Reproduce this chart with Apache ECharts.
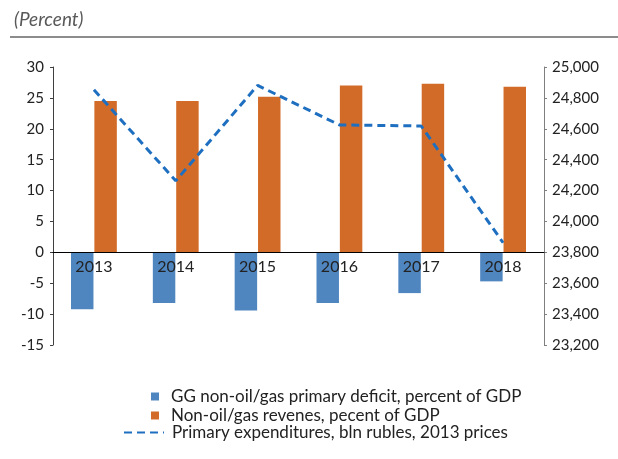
<!DOCTYPE html>
<html>
<head>
<meta charset="utf-8">
<script src="https://cdn.jsdelivr.net/npm/echarts@6/dist/echarts.min.js"></script>
<style>
  html, body { margin: 0; padding: 0; background: #fff; }
  #main { width: 618px; height: 459px; }
</style>
</head>
<body>
<div id="main"></div>
<script>
let years = ['2013', '2014', '2015', '2016', '2017', '2018'];
let deficit = [-9.2, -8.2, -9.4, -8.2, -6.6, -4.7];
let revenues = [24.5, 24.5, 25.2, 27.0, 27.3, 26.8];
let expenditures = [24853, 24263, 24881, 24625, 24618, 23862];

let chartDom = document.getElementById('main');
let myChart = echarts.init(chartDom);
let font = 'Lato';
let option;

// grid geometry, used to put the category axis on the zero line
let gridTop = 67, gridBottom = 114, leftMin = -15, leftMax = 30;
let plotH = 459 - gridTop - gridBottom;
let zeroOffset = -plotH * (0 - leftMin) / (leftMax - leftMin);

option = {
	animation: false,
	textStyle: {
		fontFamily: font
	},
	title: {
		text: '(Percent)',
		left: 9,
		top: 5,
		textStyle: {
			fontFamily: font,
			fontStyle: 'italic',
			fontWeight: 'normal',
			fontSize: 19,
			color: '#595959'
		}
	},
	graphic: [{
		type: 'line',
		shape: { x1: 10, y1: 37, x2: 618, y2: 37 },
		style: { stroke: '#8c8c8c', lineWidth: 2 }
	}],
	grid: {
		left: 53,
		right: 74,
		top: gridTop,
		bottom: gridBottom
	},
	legend: [{
		data: ['GG non-oil/gas primary deficit, percent of GDP', 'Non-oil/gas revenes, pecent of GDP'],
		orient: 'vertical',
		left: 151,
		top: 388,
		padding: 0,
		itemWidth: 8,
		itemHeight: 8,
		itemGap: 2,
		icon: 'rect',
		textStyle: {
			fontSize: 17,
			color: '#222',
			padding: [0, 0, 0, 7]
		}
	}, {
		data: ['Primary expenditures, bln rubles, 2013 prices'],
		left: 123,
		top: 424,
		padding: 0,
		itemWidth: 40,
		itemHeight: 14,
		itemStyle: { opacity: 0 },
		textStyle: {
			fontSize: 17,
			color: '#222',
			padding: [0, 0, 0, 3]
		}
	}],
	xAxis: {
		type: 'category',
		data: years,
		position: 'bottom',
		offset: zeroOffset,
		axisTick: { show: false },
		axisLine: {
			show: true,
			onZero: false,
			lineStyle: { color: '#000', width: 1 }
		},
		axisLabel: {
			fontSize: 16,
			color: '#222',
			margin: 7
		},
		z: 10
	},
	yAxis: [{
		type: 'value',
		min: leftMin,
		max: leftMax,
		interval: 5,
		splitLine: { show: false },
		axisLine: { show: true, lineStyle: { color: '#404040' } },
		axisTick: { show: true, length: 3, lineStyle: { color: '#404040' } },
		axisLabel: { fontSize: 15, color: '#222', margin: 9 }
	}, {
		type: 'value',
		min: 23200,
		max: 25000,
		interval: 200,
		position: 'right',
		splitLine: { show: false },
		axisLine: { show: true, lineStyle: { color: '#7f7f7f' } },
		axisTick: { show: true, length: 3, lineStyle: { color: '#7f7f7f' } },
		axisLabel: {
			fontSize: 15,
			color: '#222',
			margin: 8,
			formatter: function(v) {
				return v.toLocaleString('en-US');
			}
		}
	}],
	series: [{
		name: 'GG non-oil/gas primary deficit, percent of GDP',
		type: 'bar',
		data: deficit,
		barGap: '4%',
		barCategoryGap: '44%',
		itemStyle: { color: '#4f86c0' }
	}, {
		name: 'Non-oil/gas revenes, pecent of GDP',
		type: 'bar',
		data: revenues,
		barGap: '4%',
		barCategoryGap: '44%',
		itemStyle: { color: '#d36b28' }
	}, {
		name: 'Primary expenditures, bln rubles, 2013 prices',
		type: 'line',
		yAxisIndex: 1,
		data: expenditures,
		symbol: 'none',
		lineStyle: {
			color: '#1f6fc0',
			width: 3,
			type: [8, 5]
		},
		itemStyle: { color: '#1f6fc0' },
		z: 5
	}]
};

option && myChart.setOption(option);
</script>
</body>
</html>
